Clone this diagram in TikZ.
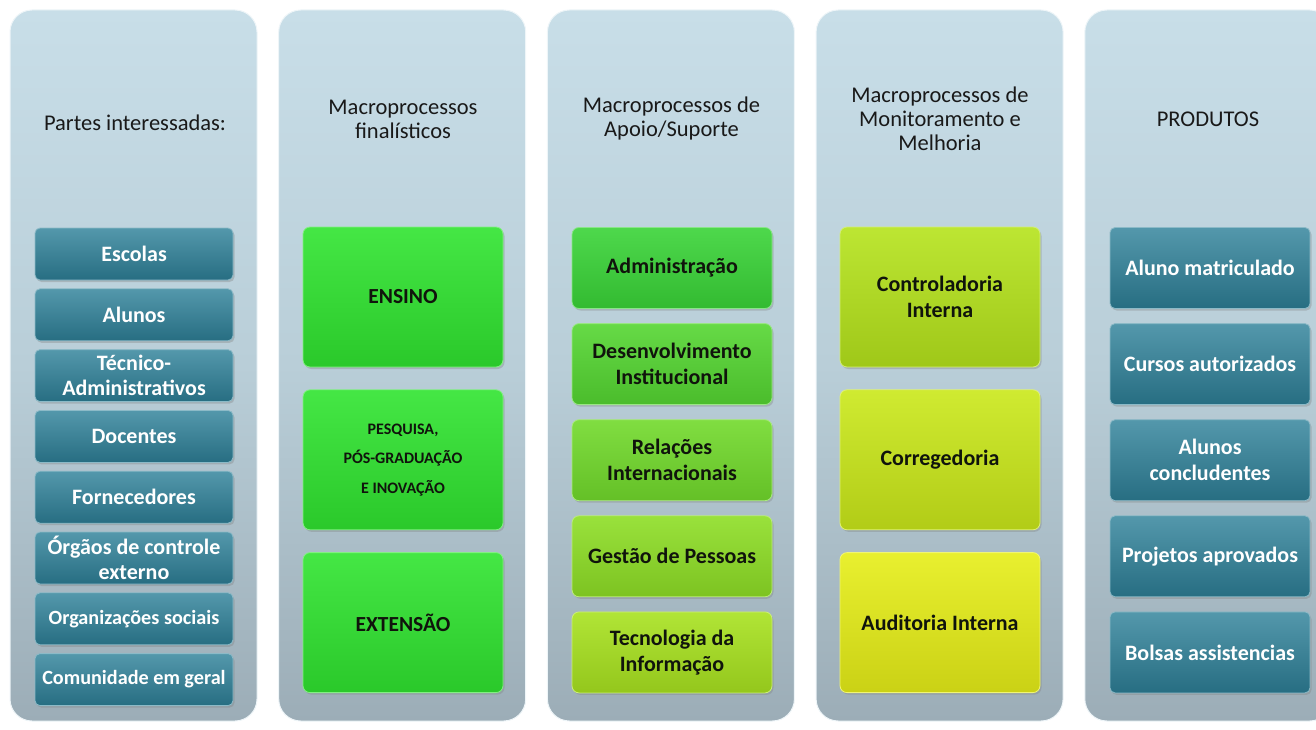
\documentclass[tikz,border=0pt]{standalone}
\usepackage{fontspec}
\setmainfont{Carlito}
\usetikzlibrary{positioning,shadows}

\definecolor{paneltop}{HTML}{C8DEE8}
\definecolor{panelmid}{HTML}{B9CED8}
\definecolor{panelbot}{HTML}{9CADB7}
\definecolor{tealbase}{HTML}{2E8199}
\definecolor{darktext}{HTML}{10140C}
\definecolor{verde}{HTML}{30E430}
\definecolor{apoioA}{HTML}{3AD438}
\definecolor{apoioB}{HTML}{55D632}
\definecolor{apoioC}{HTML}{72DA2C}
\definecolor{apoioD}{HTML}{8EDE26}
\definecolor{apoioE}{HTML}{A8E220}
\definecolor{monitA}{HTML}{B5E31C}
\definecolor{monitB}{HTML}{CAE81A}
\definecolor{monitC}{HTML}{E6EE18}

\begin{document}
\begin{tikzpicture}[x=1pt, y=-1pt,
    panel/.style={rounded corners=22pt, draw=white!70!paneltop, line width=1pt,
                  top color=paneltop, bottom color=panelbot, middle color=panelmid},
    head/.style={align=center, text=black!90, font=\fontsize{22.5}{24}\selectfont},
    tealbox/.style={rounded corners=5pt, draw=tealbase!55!white, line width=0.8pt,
                    top color=tealbase!82!white, bottom color=tealbase!85!black,
                    text=white, align=center, inner sep=1pt,
                    drop shadow={shadow xshift=1.5pt, shadow yshift=-2pt, opacity=.35}},
    colbox/.style={rounded corners=7pt, draw=#1!60!white, line width=0.8pt,
                   top color=#1!90!white, bottom color=#1!88!black,
                   text=darktext, align=center, inner sep=1pt, minimum width=200pt,
                   font=\bfseries\fontsize{22}{26}\selectfont,
                   drop shadow={shadow xshift=1.5pt, shadow yshift=-2pt, opacity=.35}},
    parte/.style={tealbox, minimum width=198pt, minimum height=52pt,
                  font=\bfseries\fontsize{22}{24.5}\selectfont},
    longa/.style={font=\bfseries\fontsize{20.2}{24}\selectfont},
    produto/.style={tealbox, minimum width=200pt, minimum height=81pt,
                    font=\bfseries\fontsize{22}{26}\selectfont},
    grande/.style={colbox=#1, minimum height=140pt},
    media/.style={colbox=#1, minimum height=81pt}]
    \useasboundingbox (0,0) rectangle (1316,730);
    \clip (0,0) rectangle (1316,730);
    % panels
    \path[panel] (10,10) rectangle (257,721);
    \path[panel] (278.7,10) rectangle (525.7,721);
    \path[panel] (547.4,10) rectangle (794.4,721);
    \path[panel] (816.1,10) rectangle (1063.1,721);
    \path[panel] (1084.8,10) rectangle (1331.8,721);
    % headers
    \node[head] (hPartes) at (135,123) {Partes interessadas:};
    \node[head] (hFinal)  at (403,119)   {Macroprocessos\\finalísticos};
    \node[head] (hApoio)  at (671.5,119) {Macroprocessos de\\Apoio/Suporte};
    \node[head] (hMonit)  at (940,119)   {Macroprocessos de\\Monitoramento e\\Melhoria};
    \node[head] (hProd)   at (1208,119)  {PRODUTOS};
    % partes interessadas
    \node[parte] (escolas)  at (134,254)                {Escolas};
    \node[parte] (alunos)   [below=8pt of escolas]      {Alunos};
    \node[parte] (tecnicos) [below=8pt of alunos]       {Técnico-\\Administrativos};
    \node[parte] (docentes) [below=8pt of tecnicos]     {Docentes};
    \node[parte] (fornec)   [below=8pt of docentes]     {Fornecedores};
    \node[parte] (orgaos)   [below=8pt of fornec]       {Órgãos de controle\\externo};
    \node[parte, longa] (orgsoc)   [below=8pt of orgaos]       {Organizações sociais};
    \node[parte, longa] (comunid)  [below=8pt of orgsoc]       {Comunidade em geral};
    % finalisticos
    \node[grande=verde, font=\bfseries\fontsize{21.5}{24}\selectfont] (ensino) at (403,297) {ENSINO};
    \node[grande=verde, font=\bfseries\fontsize{16}{29.5}\selectfont] (pesquisa) [below=22pt of ensino] {PESQUISA,\\PÓS-GRADUAÇÃO\\E INOVAÇÃO};
    \node[grande=verde, font=\bfseries\fontsize{21.5}{24}\selectfont] (extensao) [below=22pt of pesquisa] {EXTENSÃO};
    % apoio
    \node[media=apoioA] (admin)   at (672,268)              {Administração};
    \node[media=apoioB] (desenv)  [below=14.3pt of admin]   {Desenvolvimento\\Institucional};
    \node[media=apoioC] (relint)  [below=14.3pt of desenv]  {Relações\\Internacionais};
    \node[media=apoioD] (gestao)  [below=14.3pt of relint]  {Gestão de Pessoas};
    \node[media=apoioE] (tecinfo) [below=14.3pt of gestao]  {Tecnologia da\\Informação};
    % monitoramento
    \node[grande=monitA] (control)  at (940,297)              {Controladoria\\Interna};
    \node[grande=monitB] (correg)   [below=22pt of control]   {Corregedoria};
    \node[grande=monitC] (auditor)  [below=22pt of correg]    {Auditoria Interna};
    % produtos
    \node[produto] (matric)   at (1210,268)              {Aluno matriculado};
    \node[produto] (cursos)   [below=14.3pt of matric]   {Cursos autorizados};
    \node[produto] (conclu)   [below=14.3pt of cursos]   {Alunos\\concludentes};
    \node[produto] (projetos) [below=14.3pt of conclu]   {Projetos aprovados};
    \node[produto] (bolsas)   [below=14.3pt of projetos] {Bolsas assistencias};
\end{tikzpicture}
\end{document}
